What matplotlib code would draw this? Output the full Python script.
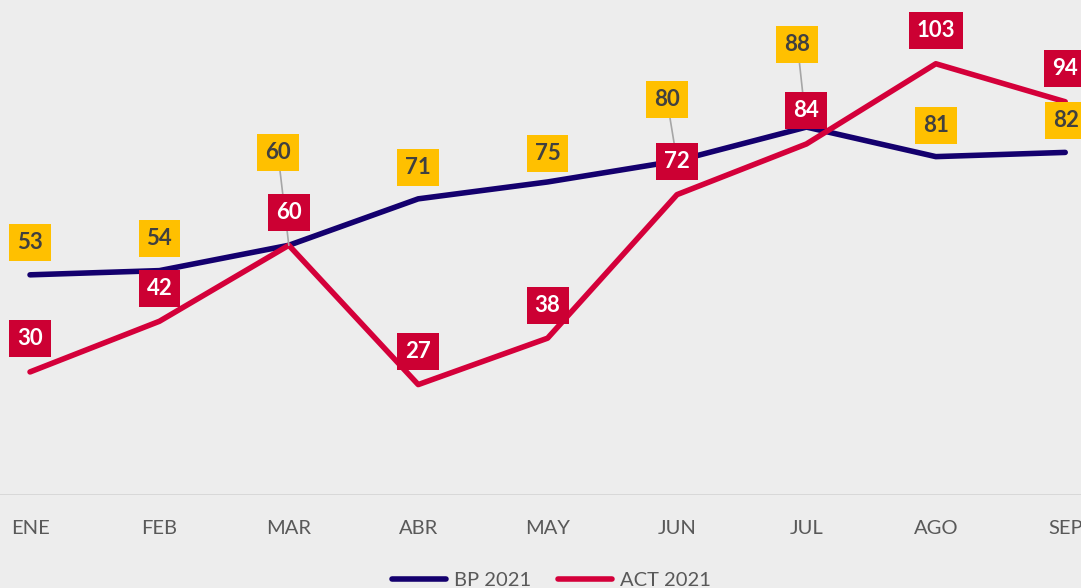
import matplotlib.pyplot as plt
import numpy as np

months = ["ENE", "FEB", "MAR", "ABR", "MAY", "JUN", "JUL", "AGO", "SEP"]
bp_2021 = [53, 54, 60, 71, 75, 80, 88, 81, 82]
act_2021 = [30, 42, 60, 27, 38, 72, 84, 103, 94]

# label offsets in pixels (most labels sit just above their point)
bp_offsets = [(0, 32), (0, 32), (-11, 93), (0, 31), (0, 28), (-10, 61), (-9, 83), (0, 31), (1, 32)]
act_offsets = [(0, 33)] * 9

bg = "#EDEDED"
navy = "#14006E"
red = "#D4003A"
box_red = "#CC0033"
box_yel = "#FFC000"

plt.rcParams['font.family'] = ['Lato', 'DejaVu Sans']

fig = plt.figure(figsize=(10.81, 5.88), dpi=100, facecolor=bg)
ax = fig.add_axes([0, 93 / 588, 1, 495 / 588])
ax.set_facecolor(bg)

x = np.arange(len(months))
ax.plot(x, bp_2021, color=navy, lw=4, solid_capstyle='round', solid_joinstyle='round',
        label="BP 2021", zorder=3)
ax.plot(x, act_2021, color=red, lw=4, solid_capstyle='round', solid_joinstyle='round',
        label="ACT 2021", zorder=4)

ax.axhline(0.85, color="#D6D6D6", lw=2, zorder=1)

for i, v in enumerate(bp_2021):
    dx, dy = bp_offsets[i]
    arrow = None
    if dy > 50:
        arrow = dict(arrowstyle='-', color="#A6A6A6", lw=1.2, shrinkA=0, shrinkB=0)
    ax.annotate(str(v), (x[i], v), xytext=(dx, dy), textcoords='offset pixels',
                ha='center', va='center', fontsize=16, fontweight='bold', color="#404040",
                bbox=dict(boxstyle='square,pad=0.36', fc=box_yel, ec='none'),
                arrowprops=arrow, zorder=5, annotation_clip=False)

for i, v in enumerate(act_2021):
    dx, dy = act_offsets[i]
    ax.annotate(str(v), (x[i], v), xytext=(dx, dy), textcoords='offset pixels',
                ha='center', va='center', fontsize=16, fontweight='bold', color="white",
                bbox=dict(boxstyle='square,pad=0.36', fc=box_red, ec='none'),
                zorder=6, annotation_clip=False)

ax.set_xlim(-0.232, 8.122)
ax.set_ylim(0.85, 118.1)
ax.set_xticks(x)
ax.set_xticklabels(months, fontsize=14.5, color="#595959")
ax.tick_params(axis='x', length=0, pad=18)
ax.set_yticks([])
for s in ax.spines.values():
    s.set_visible(False)

fig.legend(loc='center', bbox_to_anchor=(0.51, 0.0136), ncol=2, frameon=False,
           fontsize=14.5, labelcolor="#595959", handlelength=2.7, handletextpad=0.4,
           columnspacing=1.3)

fig.savefig("out.png", dpi=100, facecolor=bg)
